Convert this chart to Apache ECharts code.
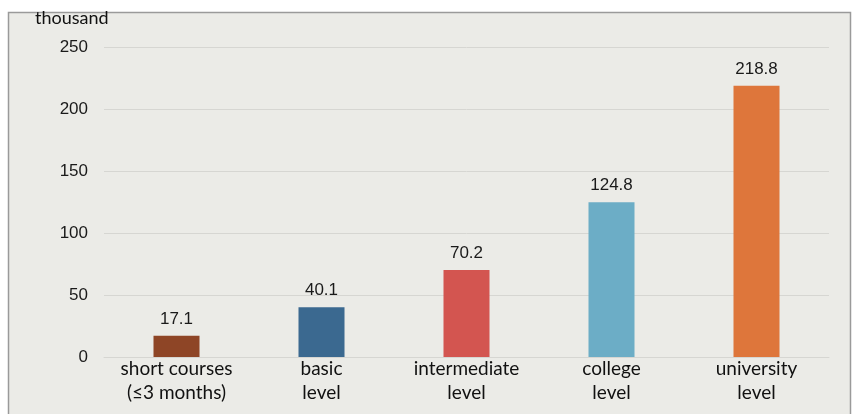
<!DOCTYPE html>
<html><head><meta charset="utf-8">
<script src="https://cdn.jsdelivr.net/npm/echarts@6/dist/echarts.min.js"></script>
<style>html,body{margin:0;padding:0;background:#fff}#c{width:853px;height:414px}</style>
</head><body><div id="c"></div>
<script>
const categories = ['short courses\n(≤3 months)', 'basic\nlevel', 'intermediate\nlevel', 'college\nlevel', 'university\nlevel'];
const values = [17.1, 40.1, 70.2, 124.8, 218.8];
const barColors = ['#8e4526', '#3b6990', '#d35550', '#6cadc6', '#de763b'];
const unitLabel = 'thousand';

const chart = echarts.init(document.getElementById('c'));
chart.setOption({
  animation: false,
  backgroundColor: '#ffffff',
  graphic: [{
    type: 'rect', z: -10, silent: true,
    shape: { x: 8.5, y: 12.5, width: 842, height: 410 },
    style: { fill: '#ebebe7', stroke: '#9a9a9a', lineWidth: 1.5 }
  }, {
    type: 'text', left: 35, top: 9,
    style: { text: unitLabel, font: '18px "Lato", "Liberation Sans", sans-serif', fill: '#111' }
  }],
  grid: { left: 104, right: 24, top: 47, bottom: 57 },
  xAxis: {
    type: 'category', data: categories,
    axisLine: { show: true, lineStyle: { color: '#d6d6d2', width: 1 } },
    axisTick: { show: false },
    axisLabel: { color: '#111', fontSize: 19, lineHeight: 24, margin: 0, interval: 0,
      fontFamily: '"Lato", "Open Sans", sans-serif' }
  },
  yAxis: {
    type: 'value', min: 0, max: 250, interval: 50,
    axisLine: { show: false }, axisTick: { show: false },
    splitLine: { lineStyle: { color: '#d6d6d2', width: 1 } },
    axisLabel: { color: '#1a1a1a', fontSize: 17, margin: 16, fontFamily: '"Liberation Sans", Arial, sans-serif' }
  },
  series: [{
    type: 'bar', barWidth: 46,
    data: values.map((v, i) => ({ value: v, itemStyle: { color: barColors[i] } })),
    label: { show: true, position: 'top', distance: 8, color: '#1a1a1a', fontSize: 17,
      fontFamily: '"Liberation Sans", Arial, sans-serif' }
  }]
});
</script></body></html>
